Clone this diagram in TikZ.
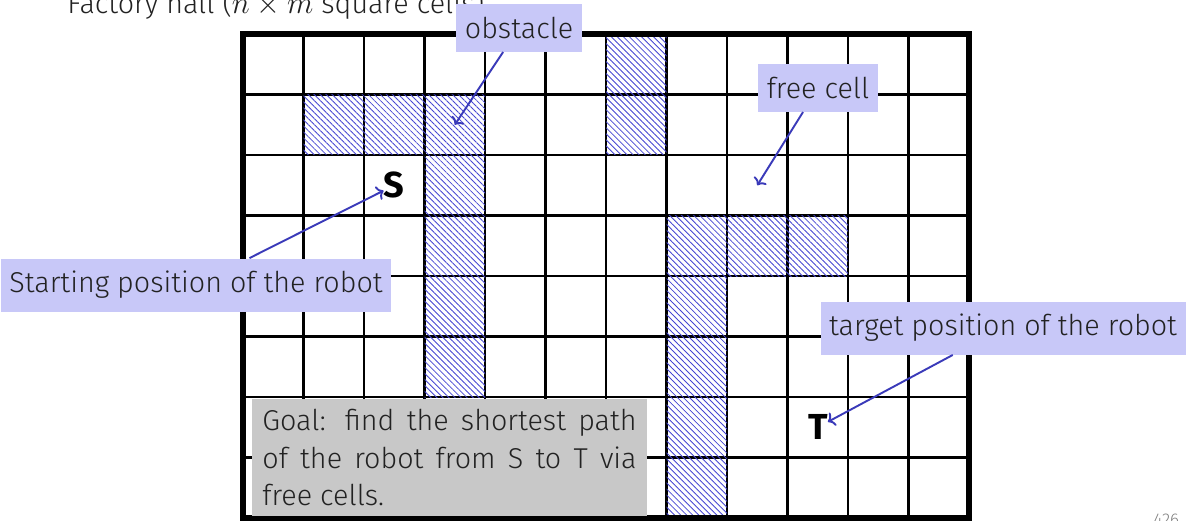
\documentclass[tikz,border=0pt]{standalone}
\usepackage{fontspec}
\setmainfont{Fira Sans}[UprightFont={* Light}, BoldFont={* Bold}]
\usepackage{tikz}
\usetikzlibrary{arrows.meta,positioning,patterns.meta}
\definecolor{calloutfill}{RGB}{200,200,248}
\definecolor{arrowblue}{RGB}{58,58,185}
\definecolor{hatchblue}{RGB}{70,70,210}
\definecolor{goalgray}{RGB}{200,200,200}
\definecolor{textdark}{RGB}{34,34,34}
\tikzset{
  hall/cells/.style={line width=1.1pt},
  hall/border/.style={line width=2.4pt},
  hall/obstacle/.style={pattern={Lines[angle=-45,distance=2pt,line width=0.4pt]}, pattern color=hatchblue},
  hall/robot/.style={font=\fontsize{17}{20}\selectfont\bfseries, inner sep=0pt},
  hall/callout/.style={fill=calloutfill, text=textdark, font=\fontsize{13.5}{16}\selectfont, inner xsep=4pt, inner ysep=6pt},
  hall/pointer/.style={draw=arrowblue, line width=0.9pt, -{To[length=3pt,width=7pt]}},
  hall/goal/.style={fill=goalgray, text=textdark, font=\fontsize{13.5}{17.5}\selectfont, text width=176pt, align=justify, inner sep=5pt}
}

\begin{document}
\begin{tikzpicture}
  \useasboundingbox (-4.017,-0.033) rectangle (15.636,8.562);

  \node[anchor=base west, inner sep=0pt, text=textdark, font=\fontsize{13.5}{16}\selectfont] (title) at (-2.909,8.347) {Factory hall ($n \times m$ square cells)};

  % factory hall
  \draw[hall/cells] (0,0) grid (12,8);
  \fill[hall/obstacle] (6,6) rectangle (7,8);
  \fill[hall/obstacle] (1,6) rectangle (4,7);
  \fill[hall/obstacle] (3,2) rectangle (4,6);
  \fill[hall/obstacle] (7,4) rectangle (10,5);
  \fill[hall/obstacle] (7,0) rectangle (8,4);
  \draw[hall/border] (0,0) rectangle (12,8);

  \node[hall/robot] (start) at (2.5,5.5) {S};
  \node[hall/robot] (target) at (9.5,1.5) {T};
  \coordinate (blocked) at (3.5,6.5);
  \coordinate (free) at (8.5,5.5);

  \node[hall/callout] (obstacle) at (4.562,8.099) {obstacle};
  \node[hall/callout] (freecell) at (9.504,7.107) {free cell};
  \node[hall/callout] (startpos) at (-0.777,3.851) {Starting position of the robot};
  \node[hall/callout] (targetpos) at (12.562,3.140) {target position of the robot};

  \draw[hall/pointer] (obstacle) -- (blocked);
  \draw[hall/pointer] (freecell) -- (free);
  \draw[hall/pointer] (startpos) -- (start);
  \draw[hall/pointer] (targetpos) -- (target);

  \node[hall/goal] (goal) at (3.413,1.0) {Goal: find the shortest path of the robot from S to T via free cells.};

  \node[anchor=base east, inner sep=0pt, text=gray, font=\fontsize{8}{10}\selectfont] (page) at (15.48,-0.116) {426};
\end{tikzpicture}
\end{document}
